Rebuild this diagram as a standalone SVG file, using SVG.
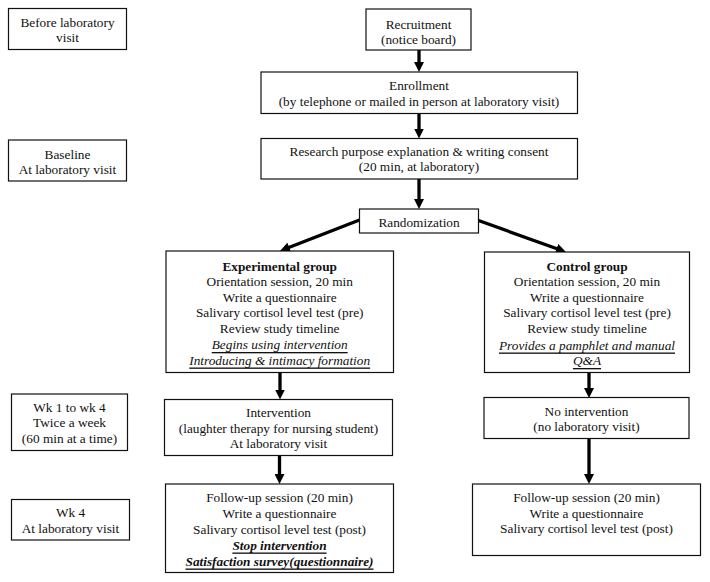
<svg xmlns="http://www.w3.org/2000/svg" width="710" height="582" viewBox="0 0 710 582">
<style>
  rect.box { fill: #fff; stroke: #111; stroke-width: 1.2; }
  text { font-family: "Liberation Serif", "Times New Roman", serif; font-size: 13.3px; fill: #111; text-anchor: middle; dominant-baseline: central; }
  .b { font-weight: bold; }
  .iu { font-style: italic; text-decoration: underline; }
  .biu { font-style: italic; font-weight: bold; text-decoration: underline; }
  .arrow { stroke: #000; stroke-width: 3.3; fill: none; marker-end: url(#ah); }
</style>
<defs>
  <marker id="ah" viewBox="0 0 10 10" refX="0.5" refY="5" markerWidth="10" markerHeight="10" markerUnits="userSpaceOnUse" orient="auto">
    <path d="M0,0 L10,5 L0,10 z" fill="#000"/>
  </marker>
</defs>
<rect width="710" height="582" fill="#fff"/>

<g id="connectors">
  <line class="arrow" x1="419" y1="50" x2="419" y2="62.5"/>
  <line class="arrow" x1="419" y1="113.5" x2="419" y2="129"/>
  <line class="arrow" x1="419" y1="179" x2="419" y2="199.5"/>
  <line class="arrow" x1="359.5" y1="220" x2="288.8" y2="247.5"/>
  <line class="arrow" x1="478.5" y1="220.5" x2="557" y2="248.8"/>
  <line class="arrow" x1="280" y1="372.5" x2="280" y2="390"/>
  <line class="arrow" x1="589" y1="372.5" x2="589" y2="388.5"/>
  <line class="arrow" x1="279.5" y1="455.5" x2="279.5" y2="474.5"/>
  <line class="arrow" x1="589" y1="438.5" x2="589" y2="474.5"/>
</g>

<g id="before-lab">
  <rect class="box" x="8.5" y="8.5" width="118" height="41"/>
  <text x="67.5" y="22.7">Before laboratory</text>
  <text x="67.5" y="37.7">visit</text>
</g>
<g id="baseline">
  <rect class="box" x="8.5" y="140" width="118" height="41"/>
  <text x="67.5" y="154">Baseline</text>
  <text x="67.5" y="169">At laboratory visit</text>
</g>
<g id="wk1-4">
  <rect class="box" x="11.5" y="394" width="116" height="56.5"/>
  <text x="69.5" y="407.7">Wk 1 to wk 4</text>
  <text x="69.5" y="422.7">Twice a week</text>
  <text x="69.5" y="438.3">(60 min at a time)</text>
</g>
<g id="wk4">
  <rect class="box" x="11.5" y="499.5" width="118" height="40.5"/>
  <text x="70.5" y="512.7">Wk 4</text>
  <text x="70.5" y="528">At laboratory visit</text>
</g>

<g id="recruitment">
  <rect class="box" x="366" y="9" width="105" height="41"/>
  <text x="418.5" y="24">Recruitment</text>
  <text x="418.5" y="39">(notice board)</text>
</g>
<g id="enrollment">
  <rect class="box" x="261" y="72" width="316.5" height="41.5"/>
  <text x="419" y="85.7">Enrollment</text>
  <text x="419" y="101.7">(by telephone or mailed in person at laboratory visit)</text>
</g>
<g id="consent">
  <rect class="box" x="261" y="138.5" width="316.5" height="40.5"/>
  <text x="419" y="151">Research purpose explanation &amp; writing consent</text>
  <text x="419" y="166.7">(20 min, at laboratory)</text>
</g>
<g id="randomization">
  <rect class="box" x="359.5" y="209" width="119" height="24"/>
  <text x="419" y="222">Randomization</text>
</g>

<g id="experimental">
  <rect class="box" x="166" y="251" width="227.5" height="121.5"/>
  <text class="b" x="279.7" y="266">Experimental group</text>
  <text x="279.7" y="281.5">Orientation session, 20 min</text>
  <text x="279.7" y="297">Write a questionnaire</text>
  <text x="279.7" y="312.6">Salivary cortisol level test (pre)</text>
  <text x="279.7" y="328.2">Review study timeline</text>
  <text class="iu" x="279.7" y="344.5">Begins using intervention</text>
  <text class="iu" x="279.7" y="360">Introducing &amp; intimacy formation</text>
</g>
<g id="control">
  <rect class="box" x="484.5" y="252" width="205" height="120.5"/>
  <text class="b" x="587" y="266">Control group</text>
  <text x="587" y="281.3">Orientation session, 20 min</text>
  <text x="587" y="297">Write a questionnaire</text>
  <text x="587" y="312.7">Salivary cortisol level test (pre)</text>
  <text x="587" y="328.3">Review study timeline</text>
  <text class="iu" x="587" y="345">Provides a pamphlet and manual</text>
  <text class="iu" x="587" y="360.5">Q&amp;A</text>
</g>

<g id="intervention">
  <rect class="box" x="164.5" y="399.5" width="228" height="56"/>
  <text x="278.5" y="412.7">Intervention</text>
  <text x="278.5" y="428.3">(laughter therapy for nursing student)</text>
  <text x="278.5" y="443.7">At laboratory visit</text>
</g>
<g id="no-intervention">
  <rect class="box" x="484" y="397.5" width="205" height="41"/>
  <text x="586.5" y="411">No intervention</text>
  <text x="586.5" y="426.7">(no laboratory visit)</text>
</g>

<g id="followup-exp">
  <rect class="box" x="165.5" y="484" width="228" height="88.5"/>
  <text x="279.5" y="497.7">Follow-up session (20 min)</text>
  <text x="279.5" y="513.3">Write a questionnaire</text>
  <text x="279.5" y="529">Salivary cortisol level test (post)</text>
  <text class="biu" x="279.5" y="545">Stop intervention</text>
  <text class="biu" x="279.5" y="561">Satisfaction survey(questionnaire)</text>
</g>
<g id="followup-ctrl">
  <rect class="box" x="472.5" y="484" width="228" height="71.5"/>
  <text x="586.5" y="497.7">Follow-up session (20 min)</text>
  <text x="586.5" y="513.3">Write a questionnaire</text>
  <text x="586.5" y="528.7">Salivary cortisol level test (post)</text>
</g>
</svg>
